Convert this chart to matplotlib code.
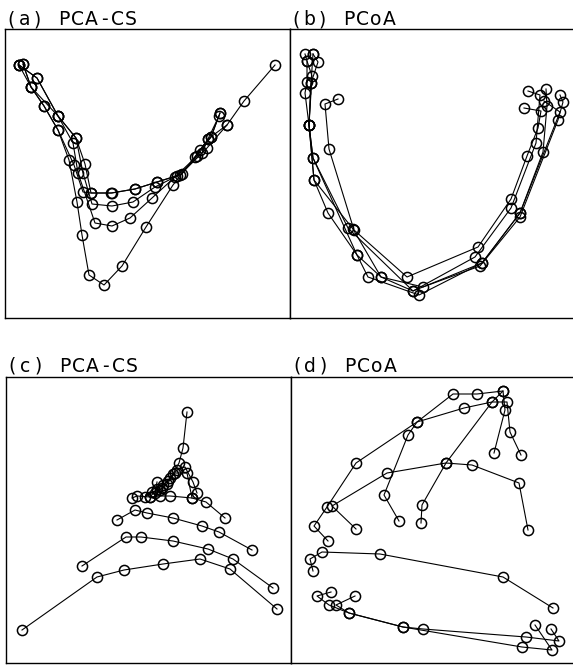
import matplotlib
matplotlib.use("Agg")
import matplotlib.pyplot as plt

# figure size in pixels (dpi 100)
W, H = 573, 666

# --- (a) PCA-CS : five trajectories, scores (x, y) ---
a1 = [(19, 65), (31, 87), (44, 106), (58, 130), (69, 160), (77, 202), (82, 235), (89, 275),
      (104, 285), (122, 266), (146, 227), (173, 185), (195, 157), (208, 139), (227, 125),
      (244, 101), (275, 65)]
a2 = [(23, 64), (31, 87), (58, 116), (73, 143), (78, 173), (95, 223), (112, 226), (130, 218),
      (152, 198), (175, 177), (197, 156), (211, 137), (220, 113)]
a3 = [(19, 65), (37, 78), (58, 116), (76, 138), (83, 173), (92, 204), (112, 206), (133, 202),
      (155, 187), (177, 176), (202, 153), (208, 139), (219, 116)]
a4 = [(23, 64), (31, 87), (44, 106), (58, 130), (74, 165), (83, 192), (91, 193), (111, 193),
      (135, 189), (157, 182), (180, 175), (207, 148), (227, 125)]
a5 = [(19, 65), (37, 78), (58, 116), (76, 138), (85, 164), (91, 193), (112, 193), (135, 189),
      (157, 182), (182, 174), (200, 150), (211, 137), (220, 113)]

# --- (b) PCoA ---
b1 = [(338, 99), (325, 104), (329, 149), (354, 230), (407, 277), (478, 247), (511, 199),
      (527, 156), (538, 128), (541, 111), (524, 108)]
b2 = [(305, 54), (307, 61), (312, 76), (309, 125), (313, 158), (348, 228), (413, 291),
      (475, 257), (511, 208), (536, 143), (540, 95), (528, 91)]
b3 = [(313, 54), (318, 62), (311, 83), (309, 125), (314, 180), (328, 213), (357, 255),
      (368, 277), (419, 295), (482, 263), (520, 213), (543, 152), (547, 106), (546, 89)]
b4 = [(307, 61), (307, 82), (305, 93), (309, 125), (313, 158), (357, 255), (381, 277),
      (423, 287), (480, 266), (520, 217), (558, 120), (563, 102), (560, 95)]
b5 = [(313, 54), (311, 83), (309, 125), (314, 180), (353, 229), (381, 277), (413, 291),
      (482, 263), (520, 213), (560, 112), (544, 101)]

# --- (c) PCA-CS ---
c1 = [(22, 630), (97, 577), (124, 570), (163, 564), (200, 559), (230, 569), (277, 609)]
c2 = [(82, 566), (126, 537), (141, 537), (173, 541), (208, 549), (233, 559), (273, 588)]
c3 = [(117, 520), (135, 510), (147, 513), (173, 518), (202, 526), (219, 532), (252, 550)]
c4 = [(132, 498), (137, 496), (150, 497), (160, 496), (170, 496), (192, 498), (206, 502),
      (225, 518)]
c5 = [(150, 497), (157, 489), (163, 485), (170, 478), (177, 470), (185, 467), (193, 482),
      (197, 493)]
c6 = [(157, 482), (155, 493), (162, 488), (168, 481), (173, 474), (179, 463), (183, 448),
      (187, 412)]
c7 = [(145, 497), (152, 492), (160, 490), (167, 484), (175, 473), (187, 473), (192, 498)]

# --- (d) PCoA ---
d1 = [(553, 608), (503, 577), (380, 554), (322, 552), (310, 559), (313, 571)]
d2 = [(328, 541), (314, 526), (327, 507), (356, 463), (417, 422), (453, 394), (477, 394),
      (503, 391), (505, 410), (494, 453)]
d3 = [(356, 529), (332, 506), (387, 473), (446, 463), (472, 465), (519, 483), (528, 530)]
d4 = [(399, 521), (384, 495), (408, 435), (417, 422), (464, 408), (492, 402), (507, 402),
      (510, 432), (521, 455)]
d5 = [(421, 523), (422, 505), (446, 463), (492, 402), (503, 391)]
d6 = [(331, 592), (317, 596), (329, 605), (349, 613), (403, 627), (423, 629), (526, 637),
      (559, 641), (551, 629)]
d7 = [(355, 596), (336, 605), (349, 613), (403, 627), (522, 647), (552, 650), (535, 625)]

panels = [
    ("(a) PCA-CS", [a1, a2, a3, a4, a5], (5, 29, 290, 318), 25),
    ("(b) PCoA", [b1, b2, b3, b4, b5], (290, 29, 575, 318), 25),
    ("(c) PCA-CS", [c1, c2, c3, c4, c5, c6, c7], (6, 377, 291, 663), 372),
    ("(d) PCoA", [d1, d2, d3, d4, d5, d6, d7], (291, 377, 576, 663), 372),
]

fig = plt.figure(figsize=(W / 100, H / 100), dpi=100)

for title, series, (x0, y0, x1, y1), ty in panels:
    ax = fig.add_axes([x0 / W, 1 - y1 / H, (x1 - x0) / W, (y1 - y0) / H])
    for s in series:
        xs = [p[0] for p in s]
        ys = [p[1] for p in s]
        ax.plot(xs, ys, color="black", lw=0.8, marker="o", ms=7.3, mfc="none",
                mec="black", mew=1.1)
    ax.set_xlim(x0, x1)
    ax.set_ylim(y1, y0)
    ax.set_xticks([])
    ax.set_yticks([])
    for sp in ax.spines.values():
        sp.set_linewidth(1.0)
    # plotter style lettering, fixed pitch
    for i, ch in enumerate(title):
        fig.text((x0 + 6 + i * 13.3) / W, 1 - ty / H, ch, fontsize=13.5,
                 ha="center", va="baseline", family="DejaVu Sans")

fig.savefig("out.png", dpi=100, facecolor="white")
